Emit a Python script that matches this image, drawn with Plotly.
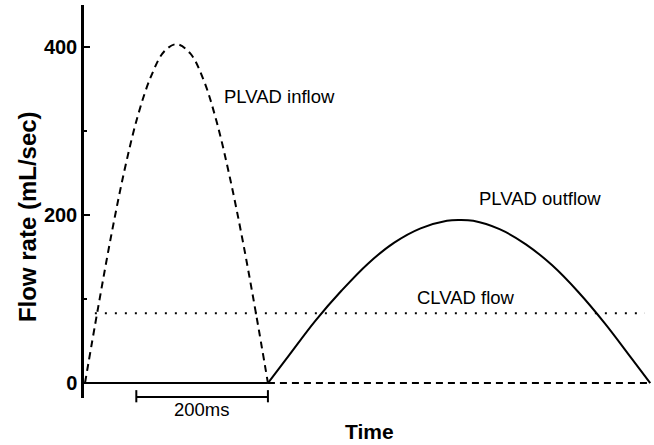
import plotly.graph_objects as go

# Time in ms, flow in mL/sec
inflow_t = [0, 20, 40, 60, 80, 100, 120, 139, 160, 180, 200, 220, 240, 260, 278, 859]
inflow_v = [0, 90, 176, 253, 317, 364, 394, 403, 392, 361, 311, 245, 168, 82, 0, 0]

outflow_t = [0, 278, 310, 350, 390, 430, 470, 510, 550, 568, 590, 630, 670, 710, 750, 790, 830, 859]
outflow_v = [0, 0, 33, 74, 110, 142, 167, 184, 193, 194, 193, 183, 165, 140, 108, 71, 30, 0]

clvad_t = [15, 851]
clvad_v = [83, 83]

y_ticks = [0, 200, 400]
y_minor = [100, 300]

scale_bar_start = 78
scale_bar_len = 200

FONT = "Arial, Liberation Sans, sans-serif"

fig = go.Figure()
fig.add_trace(go.Scatter(x=inflow_t[:15], y=inflow_v[:15], mode="lines", line_shape="spline",
                         line=dict(color="black", width=2, dash="7px,5px"), hoverinfo="skip"))
fig.add_trace(go.Scatter(x=inflow_t[14:], y=inflow_v[14:], mode="lines",
                         line=dict(color="black", width=2, dash="7px,5px"), hoverinfo="skip"))
fig.add_trace(go.Scatter(x=outflow_t[:2], y=outflow_v[:2], mode="lines",
                         line=dict(color="black", width=2), hoverinfo="skip"))
fig.add_trace(go.Scatter(x=outflow_t[1:], y=outflow_v[1:], mode="lines", line_shape="spline",
                         line=dict(color="black", width=2), hoverinfo="skip"))
fig.add_trace(go.Scatter(x=clvad_t, y=clvad_v, mode="lines",
                         line=dict(color="black", width=2, dash="2px,8px"), hoverinfo="skip"))

# scale bar
sb0, sb1 = scale_bar_start, scale_bar_start + scale_bar_len
fig.add_shape(type="line", xref="x", yref="paper", x0=sb0, x1=sb1, y0=0.0025, y1=0.0025,
              line=dict(color="black", width=2))
for xx in (sb0, sb1):
    fig.add_shape(type="line", xref="x", yref="paper", x0=xx, x1=xx, y0=0.02, y1=-0.011,
                  line=dict(color="black", width=2))

annos = [
    dict(x=296, y=341, xref="x", yref="y", text="PLVAD inflow"),
    dict(x=691, y=220, xref="x", yref="y", text="PLVAD outflow"),
    dict(x=579, y=102, xref="x", yref="y", text="CLVAD flow"),
    dict(x=(sb0 + sb1) / 2, y=-0.0305, xref="x", yref="paper", text="200ms"),
]
for a in annos:
    fig.add_annotation(**a, showarrow=False, font=dict(family=FONT, size=18.5, color="black"),
                       xanchor="center", yanchor="middle")

fig.add_annotation(x=433, y=-0.085, xref="x", yref="paper", text="<b>Time</b>", showarrow=False,
                   font=dict(family=FONT, size=21, color="black"), xanchor="center", yanchor="middle")
fig.add_annotation(x=-0.098, y=0.4606, xref="paper", yref="paper", text="<b>Flow rate (mL/sec)</b>",
                   textangle=-90, showarrow=False, font=dict(family=FONT, size=24, color="black"),
                   xanchor="center", yanchor="middle")

fig.update_layout(
    width=654, height=445,
    margin=dict(l=84, r=0, t=5, b=47),
    paper_bgcolor="white", plot_bgcolor="white",
    showlegend=False,
    xaxis=dict(range=[-1.5, 864.7], visible=False),
    yaxis=dict(range=[-17.8, 449.6], showline=True, linecolor="black", linewidth=2.5,
               showgrid=False, zeroline=False, ticks="inside", ticklen=6, tickwidth=2,
               tickcolor="black", tickvals=y_ticks, ticktext=[f"<b>{v}</b>" for v in y_ticks],
               tickfont=dict(family=FONT, size=20, color="black"),
               minor=dict(tickvals=y_minor, ticks="inside", ticklen=3, tickwidth=1.5, tickcolor="black")),
)

fig.write_html("out.html")
